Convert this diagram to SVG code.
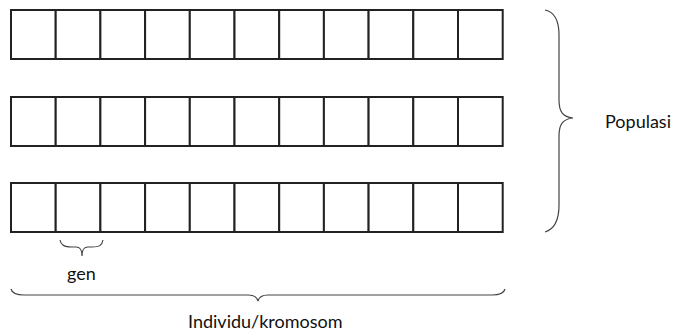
<svg xmlns="http://www.w3.org/2000/svg" width="678" height="331" viewBox="0 0 678 331">
<style>
.cell{fill:#fff;stroke:#222;stroke-width:2}
.brace{fill:none;stroke:#444;stroke-width:1.2}
.lbl{font-family:Lato,"Open Sans",sans-serif;font-size:18px;fill:#111}
</style>
<defs>
<g id="row">
<rect class="cell" x="0" y="0" width="44.7" height="49"/>
<rect class="cell" x="44.7" y="0" width="44.7" height="49"/>
<rect class="cell" x="89.4" y="0" width="44.7" height="49"/>
<rect class="cell" x="134.1" y="0" width="44.7" height="49"/>
<rect class="cell" x="178.8" y="0" width="44.7" height="49"/>
<rect class="cell" x="223.5" y="0" width="44.7" height="49"/>
<rect class="cell" x="268.2" y="0" width="44.7" height="49"/>
<rect class="cell" x="312.9" y="0" width="44.7" height="49"/>
<rect class="cell" x="357.6" y="0" width="44.7" height="49"/>
<rect class="cell" x="402.3" y="0" width="44.7" height="49"/>
<rect class="cell" x="447" y="0" width="44.7" height="49"/>
</g>
</defs>
<g id="row1"><use href="#row" x="11" y="10"/></g>
<g id="row2"><use href="#row" x="11" y="97"/></g>
<g id="row3"><use href="#row" x="11" y="183"/></g>
<g id="connectors">
<path class="brace" d="M545,10 C555,12 559,20 559,35 L559,100 C559,112 563,117 573,118 C563,119 559,124 559,136 L559,205 C559,220 555,229 545,232"/>
<path class="brace" d="M60,240 C61,245 64,247 72,247 L76,247 C80,247 82,249 82,256 C82,249 84,247 88,247 L92,247 C100,247 102,245 103,240"/>
<path class="brace" d="M11,289 C12,293 15,295 24,295 L248,295 C254,295 257,297 258,301 C259,297 262,295 268,295 L492,295 C501,295 504,293 505,289"/>
</g>
<g id="labels">
<text class="lbl" x="605" y="128">Populasi</text>
<text class="lbl" x="67" y="280">gen</text>
<text class="lbl" x="188" y="328">Individu/kromosom</text>
</g>
</svg>
